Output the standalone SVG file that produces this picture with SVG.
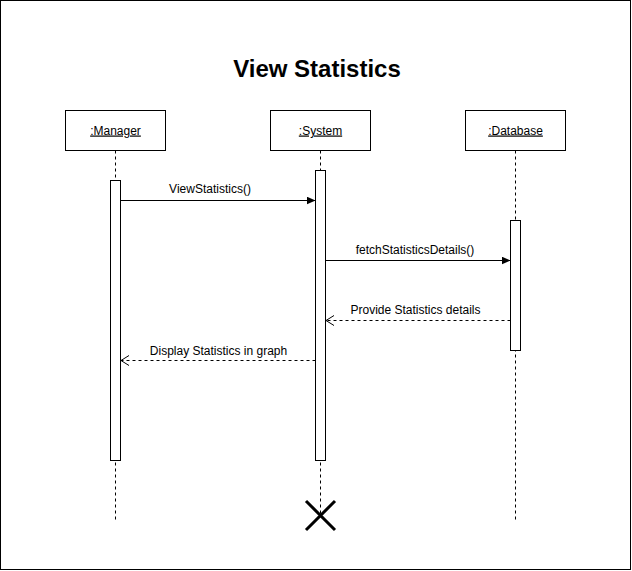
<svg xmlns="http://www.w3.org/2000/svg" width="632" height="571" viewBox="0 0 632 571">
<defs>
<style>
.box{fill:#fff;stroke:#000;stroke-width:1}
.life{stroke:#000;stroke-width:1;stroke-dasharray:3 3;fill:none}
.act{fill:#fff;stroke:#000;stroke-width:1}
.msg{stroke:#000;stroke-width:1;fill:none}
.ret{stroke:#000;stroke-width:1;fill:none;stroke-dasharray:3 3}
.hdr{font-family:"Liberation Sans",Arial,sans-serif;font-size:12px;text-anchor:middle;text-decoration:underline;fill:#000}
.lbl{font-family:"Liberation Sans",Arial,sans-serif;font-size:12px;text-anchor:middle;fill:#000}
.title{font-family:"Liberation Sans",Arial,sans-serif;font-size:24px;font-weight:bold;text-anchor:middle;fill:#000}
</style>
<marker id="fill" markerWidth="10" markerHeight="8" refX="9" refY="4" orient="auto" markerUnits="userSpaceOnUse">
<path d="M0,0 L9,4 L0,8 Z" fill="#000"/>
</marker>
<marker id="open" markerWidth="11" markerHeight="11" refX="9" refY="5" orient="auto" markerUnits="userSpaceOnUse">
<path d="M1,0 L9,5 L1,10" fill="none" stroke="#000" stroke-width="1"/>
</marker>
</defs>
<rect x="0.5" y="0.5" width="630" height="569" fill="#fff" stroke="#000" stroke-width="1"/>
<text class="title" x="317" y="77">View Statistics</text>

<g id="manager">
<rect class="box" x="65.5" y="110.5" width="100" height="40"/>
<text class="hdr" x="115.5" y="134.5">:Manager</text>
<line class="life" x1="115.5" y1="150.5" x2="115.5" y2="520"/>
<rect class="act" x="110.5" y="180.5" width="10" height="280"/>
</g>
<g id="system">
<rect class="box" x="270.5" y="110.5" width="100" height="40"/>
<text class="hdr" x="320.5" y="134.5">:System</text>
<line class="life" x1="320.5" y1="150.5" x2="320.5" y2="515"/>
<rect class="act" x="315.5" y="170.5" width="10" height="290"/>
<path d="M306,501 L335,530 M335,501 L306,530" stroke="#000" stroke-width="3" fill="none"/>
</g>
<g id="database">
<rect class="box" x="465.5" y="110.5" width="100" height="40"/>
<text class="hdr" x="515.5" y="134.5">:Database</text>
<line class="life" x1="515.5" y1="150.5" x2="515.5" y2="520"/>
<rect class="act" x="510.5" y="220.5" width="10" height="130"/>
</g>

<g id="connectors">
<line class="msg" x1="120.5" y1="200.5" x2="315.5" y2="200.5" marker-end="url(#fill)"/>
<text class="lbl" x="210" y="193">ViewStatistics()</text>
<line class="msg" x1="325.5" y1="260.5" x2="510.5" y2="260.5" marker-end="url(#fill)"/>
<text class="lbl" x="415" y="253.5">fetchStatisticsDetails()</text>
<line class="ret" x1="510.5" y1="320.5" x2="326" y2="320.5" marker-end="url(#open)"/>
<text class="lbl" x="415.5" y="313.5">Provide Statistics details</text>
<line class="ret" x1="315.5" y1="360.5" x2="121" y2="360.5" marker-end="url(#open)"/>
<text class="lbl" x="218.5" y="354.5">Display Statistics in graph</text>
</g>
</svg>
